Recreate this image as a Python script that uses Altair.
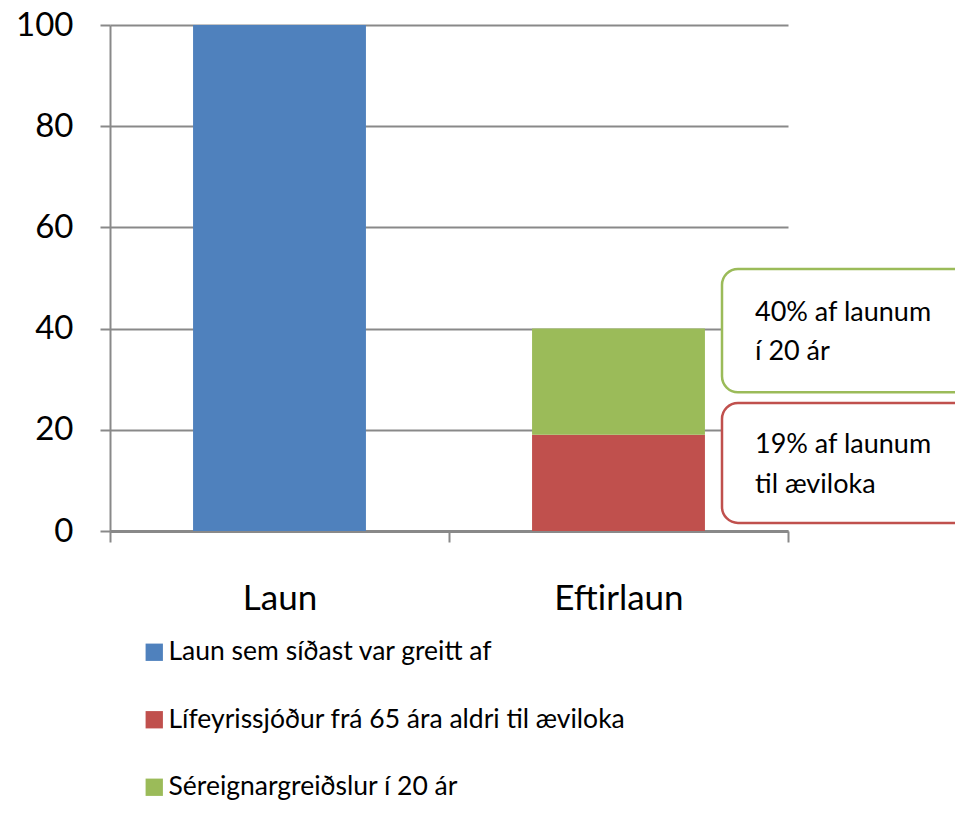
import altair as alt
import pandas as pd

# ---- data ----
categories = ["Laun", "Eftirlaun", "Eftirlaun"]
series = [
    "Laun sem síðast var greitt af",
    "Lífeyrissjóður frá 65 ára aldri til æviloka",
    "Séreignargreiðslur í 20 ár",
]
values = [100, 19, 21]
stack_order = [1, 1, 2]
series_colors = ["#4F81BD", "#C0504D", "#9BBB59"]
category_order = ["Laun", "Eftirlaun"]
y_ticks = [0, 20, 40, 60, 80, 100]

callout_top = [51.8, 25.3]
callout_bottom = [27.4, 1.6]
callout_colors = ["#9BBB59", "#C0504D"]
callout_text = ["40% af launum", "í 20 ár", "19% af launum", "til æviloka"]
callout_text_y = [41.5, 33.8, 15.4, 7.5]

GRAY = "#898989"
FONT = "Lato"

bars_df = pd.DataFrame({
    "cat": categories,
    "series": [series[0], series[1], series[2]],
    "value": values,
    "ord": stack_order,
})
box_df = pd.DataFrame({"top": callout_top, "bottom": callout_bottom, "c": callout_colors})
txt_df = pd.DataFrame({"t": callout_text, "y": callout_text_y})

x_enc = alt.X(
    "cat:N",
    sort=category_order,
    scale=alt.Scale(paddingInner=0, paddingOuter=0),
    axis=alt.Axis(
        title=None, labelAngle=0, labelFontSize=35, labelFont=FONT, labelColor="black",
        tickBand="extent", tickSize=11, tickColor=GRAY, tickWidth=2,
        domainColor=GRAY, domainWidth=3, labelPadding=39, grid=False,
    ),
)
y_scale = alt.Scale(domain=[0, 100], nice=False)

bars = alt.Chart(bars_df).mark_bar(width=alt.RelativeBandSize(0.51)).encode(
    x=x_enc,
    y=alt.Y(
        "value:Q", stack="zero", scale=y_scale,
        axis=alt.Axis(
            title=None, values=y_ticks, labelFontSize=33, labelFont=FONT, labelColor="black",
            labelPadding=27, tickSize=10, tickColor=GRAY, tickWidth=2,
            domainColor=GRAY, domainWidth=2, grid=True, gridColor=GRAY, gridWidth=2,
        ),
    ),
    color=alt.Color(
        "series:N",
        scale=alt.Scale(domain=series, range=series_colors),
        legend=alt.Legend(
            title=None, orient="none", legendX=31, legendY=614,
            symbolType="square", symbolSize=300, symbolStrokeWidth=0,
            labelFontSize=26.5, labelFont=FONT, labelColor="black",
            rowPadding=40.5, labelOffset=1, padding=0, labelLimit=800,
        ),
    ),
    order=alt.Order("ord:Q"),
)

boxes = alt.Chart(box_df).mark_rect(
    cornerRadius=16, fill="white", strokeWidth=2.5
).encode(
    x=alt.value(612),
    x2=alt.value(900),
    y=alt.Y("top:Q", scale=y_scale),
    y2="bottom:Q",
    stroke=alt.Stroke("c:N", scale=None),
)

texts = alt.Chart(txt_df).mark_text(
    align="left", baseline="alphabetic", fontSize=27, font=FONT, color="black"
).encode(
    x=alt.value(645),
    y=alt.Y("y:Q", scale=y_scale),
    text="t:N",
)

chart = alt.layer(bars, boxes, texts).properties(
    width=678,
    height=506,
    autosize=alt.AutoSizeParams(type="none"),
    padding={"left": 102, "top": 17, "right": 167, "bottom": 271},
).configure_view(stroke=None)

chart.save("out.html", embed_options={"renderer": "svg", "actions": False})
